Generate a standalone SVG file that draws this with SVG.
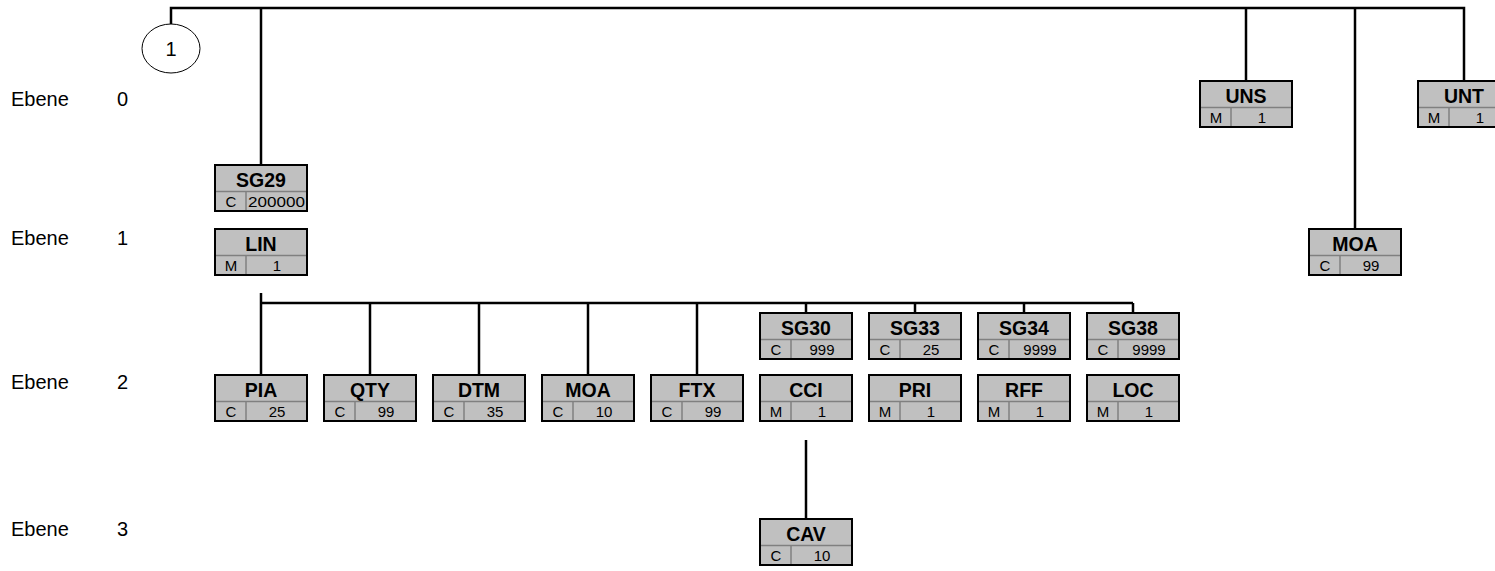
<svg xmlns="http://www.w3.org/2000/svg" width="1495" height="571" viewBox="0 0 1495 571">
<style>
.bx{fill:#c0c0c0;stroke:#000;stroke-width:2}
.dv{stroke:#808080;stroke-width:1.5;fill:none}
.hd{font-family:"Liberation Sans",Arial,sans-serif;font-size:19.5px;font-weight:bold;text-anchor:middle;fill:#000}
.sm{font-family:"Liberation Sans",Arial,sans-serif;font-size:15px;text-anchor:middle;fill:#000}
.lb{font-family:"Liberation Sans",Arial,sans-serif;font-size:20px;fill:#000}
.ln{stroke:#000;stroke-width:2.5;fill:none}
</style>
<defs>
<g id="box">
<rect class="bx" x="0" y="0" width="92" height="46"/>
<line class="dv" x1="1" y1="26.5" x2="91" y2="26.5"/>
<line class="dv" x1="31" y1="26.5" x2="31" y2="45"/>
</g>
</defs>
<rect width="1495" height="571" fill="#fff"/>
<g id="levels">
<text class="lb" x="11" y="106">Ebene</text><text class="lb" x="117" y="106">0</text>
<text class="lb" x="11" y="245">Ebene</text><text class="lb" x="117" y="245">1</text>
<text class="lb" x="11" y="389">Ebene</text><text class="lb" x="117" y="389">2</text>
<text class="lb" x="11" y="536">Ebene</text><text class="lb" x="117" y="536">3</text>
</g>
<g id="connectors">
<path class="ln" d="M171,24 V8 H1464 V81"/>
<line class="ln" x1="261" y1="8" x2="261" y2="165"/>
<line class="ln" x1="1246" y1="8" x2="1246" y2="81"/>
<line class="ln" x1="1355" y1="8" x2="1355" y2="229"/>
<line class="ln" x1="261" y1="293" x2="261" y2="375"/>
<line class="ln" x1="261" y1="303" x2="1133" y2="303"/>
<line class="ln" x1="370" y1="303" x2="370" y2="375"/>
<line class="ln" x1="479" y1="303" x2="479" y2="375"/>
<line class="ln" x1="588" y1="303" x2="588" y2="375"/>
<line class="ln" x1="697" y1="303" x2="697" y2="375"/>
<line class="ln" x1="806" y1="303" x2="806" y2="313"/>
<line class="ln" x1="915" y1="303" x2="915" y2="313"/>
<line class="ln" x1="1024" y1="303" x2="1024" y2="313"/>
<line class="ln" x1="1133" y1="303" x2="1133" y2="313"/>
<line class="ln" x1="806" y1="440" x2="806" y2="519"/>
</g>
<g id="circle1">
<ellipse cx="171" cy="48.5" rx="29" ry="24.5" fill="#fff" stroke="#000" stroke-width="1"/>
<text class="lb" x="171" y="56" text-anchor="middle">1</text>
</g>
<g id="UNS" transform="translate(1200,81)"><use href="#box"/><text class="hd" x="46" y="21.5">UNS</text><text class="sm" x="16" y="42">M</text><text class="sm" x="62" y="42">1</text></g>
<g id="UNT" transform="translate(1418,81)"><use href="#box"/><text class="hd" x="46" y="21.5">UNT</text><text class="sm" x="16" y="42">M</text><text class="sm" x="62" y="42">1</text></g>
<g id="SG29" transform="translate(215,165)"><use href="#box"/><text class="hd" x="46" y="21.5">SG29</text><text class="sm" x="16" y="42">C</text><text class="sm" x="61.5" y="42" textLength="57" lengthAdjust="spacingAndGlyphs">200000</text></g>
<g id="LIN" transform="translate(215,229)"><use href="#box"/><text class="hd" x="46" y="21.5">LIN</text><text class="sm" x="16" y="42">M</text><text class="sm" x="62" y="42">1</text></g>
<g id="MOA1" transform="translate(1309,229)"><use href="#box"/><text class="hd" x="46" y="21.5">MOA</text><text class="sm" x="16" y="42">C</text><text class="sm" x="62" y="42">99</text></g>
<g id="SG30" transform="translate(760,313)"><use href="#box"/><text class="hd" x="46" y="21.5">SG30</text><text class="sm" x="16" y="42">C</text><text class="sm" x="62" y="42">999</text></g>
<g id="SG33" transform="translate(869,313)"><use href="#box"/><text class="hd" x="46" y="21.5">SG33</text><text class="sm" x="16" y="42">C</text><text class="sm" x="62" y="42">25</text></g>
<g id="SG34" transform="translate(978,313)"><use href="#box"/><text class="hd" x="46" y="21.5">SG34</text><text class="sm" x="16" y="42">C</text><text class="sm" x="62" y="42">9999</text></g>
<g id="SG38" transform="translate(1087,313)"><use href="#box"/><text class="hd" x="46" y="21.5">SG38</text><text class="sm" x="16" y="42">C</text><text class="sm" x="62" y="42">9999</text></g>
<g id="PIA" transform="translate(215,375)"><use href="#box"/><text class="hd" x="46" y="21.5">PIA</text><text class="sm" x="16" y="42">C</text><text class="sm" x="62" y="42">25</text></g>
<g id="QTY" transform="translate(324,375)"><use href="#box"/><text class="hd" x="46" y="21.5">QTY</text><text class="sm" x="16" y="42">C</text><text class="sm" x="62" y="42">99</text></g>
<g id="DTM" transform="translate(433,375)"><use href="#box"/><text class="hd" x="46" y="21.5">DTM</text><text class="sm" x="16" y="42">C</text><text class="sm" x="62" y="42">35</text></g>
<g id="MOA2" transform="translate(542,375)"><use href="#box"/><text class="hd" x="46" y="21.5">MOA</text><text class="sm" x="16" y="42">C</text><text class="sm" x="62" y="42">10</text></g>
<g id="FTX" transform="translate(651,375)"><use href="#box"/><text class="hd" x="46" y="21.5">FTX</text><text class="sm" x="16" y="42">C</text><text class="sm" x="62" y="42">99</text></g>
<g id="CCI" transform="translate(760,375)"><use href="#box"/><text class="hd" x="46" y="21.5">CCI</text><text class="sm" x="16" y="42">M</text><text class="sm" x="62" y="42">1</text></g>
<g id="PRI" transform="translate(869,375)"><use href="#box"/><text class="hd" x="46" y="21.5">PRI</text><text class="sm" x="16" y="42">M</text><text class="sm" x="62" y="42">1</text></g>
<g id="RFF" transform="translate(978,375)"><use href="#box"/><text class="hd" x="46" y="21.5">RFF</text><text class="sm" x="16" y="42">M</text><text class="sm" x="62" y="42">1</text></g>
<g id="LOC" transform="translate(1087,375)"><use href="#box"/><text class="hd" x="46" y="21.5">LOC</text><text class="sm" x="16" y="42">M</text><text class="sm" x="62" y="42">1</text></g>
<g id="CAV" transform="translate(760,519)"><use href="#box"/><text class="hd" x="46" y="21.5">CAV</text><text class="sm" x="16" y="42">C</text><text class="sm" x="62" y="42">10</text></g>
</svg>
